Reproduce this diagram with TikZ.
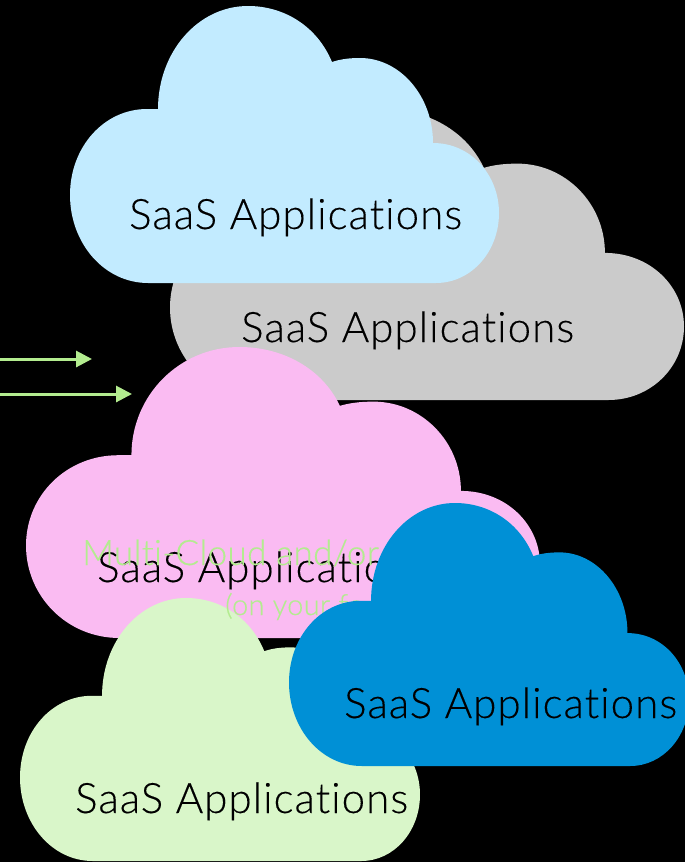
\documentclass[tikz,border=0pt]{standalone}
\usepackage{fontspec}
\setmainfont[Ligatures=NoCommon]{Lato Light}
\newfontfamily\saasfont[LetterSpace=2.6,Ligatures=NoCommon,FakeBold=0.25]{Lato Light}
\newfontfamily\greenfont[LetterSpace=1,Ligatures=NoCommon,FakeBold=0.4]{Lato Light}
\usetikzlibrary{arrows.meta}
\definecolor{cLightBlue}{HTML}{C2EBFF}
\definecolor{cGrey}{HTML}{CBCBCB}
\definecolor{cPink}{HTML}{FABBF2}
\definecolor{cLightGreen}{HTML}{D9F6C9}
\definecolor{cBlue}{HTML}{0090D6}
\definecolor{cArrow}{HTML}{B3EC8F}
\newcommand{\cloudshape}[5]{%
  \begin{scope}[shift={(#1,#2)},xscale=#3/429,yscale=#4/277]
    \fill[#5] (78,277) .. controls (34,277) and (0,237) .. (0,189)
      .. controls (0,141) and (34,103) .. (77,103) -- (88,103)
      .. controls (88,46) and (128,0) .. (178,0)
      .. controls (214,0) and (247,20) .. (262,56)
      .. controls (271,53) and (280,52) .. (290,52)
      .. controls (330,52) and (363,90) .. (363,137)
      .. controls (401,137) and (429,169) .. (429,207)
      .. controls (429,246) and (401,277) .. (366,277) -- cycle;
  \end{scope}}
\tikzset{
  saas/.style={anchor=base west,inner sep=0pt,text=black,font=\saasfont\fontsize{42}{42}\selectfont},
  multi/.style={anchor=base west,inner sep=0pt,text=cArrow,font=\greenfont\fontsize{35}{35}\selectfont},
  onyour/.style={anchor=base west,inner sep=0pt,text=cArrow,font=\greenfont\fontsize{29}{29}\selectfont},
  flow/.style={draw=cArrow,line width=3pt,-{Triangle[length=16pt,width=16pt]}}
}
\begin{document}
\begin{tikzpicture}[x=1pt,y=-1pt]
  \path[use as bounding box,fill=black] (0,0) rectangle (685,862);
  \clip (0,0) rectangle (685,862);
  \cloudshape{170}{109}{514}{291}{cGrey}
  \node[saas] (tGrey) at (241,342) {SaaS Applications};
  \cloudshape{70}{6}{429}{277}{cLightBlue}
  \node[saas] (tLightBlue) at (129,229) {SaaS Applications};
  \coordinate (a1s) at (0,359);
  \coordinate (a1e) at (92,359);
  \coordinate (a2s) at (0,394);
  \coordinate (a2e) at (132,394);
  \draw[flow] (a1s) -- (a1e);
  \draw[flow] (a2s) -- (a2e);
  \cloudshape{26}{347}{514}{291}{cPink}
  \node[saas] (tPink) at (97,582) {SaaS Applications};
  \cloudshape{20}{598}{400}{263}{cLightGreen}
  \node[multi] (tMulti) at (82,565) {Multi-Cloud and/or};
  \node[onyour] (tOn) at (225,615) {(on your fo};
  \node[saas] (tLightGreen) at (75,813) {SaaS Applications};
  \cloudshape{289}{503}{400}{263}{cBlue}
  \node[saas] (tBlue) at (344,718) {SaaS Applications};
\end{tikzpicture}
\end{document}
